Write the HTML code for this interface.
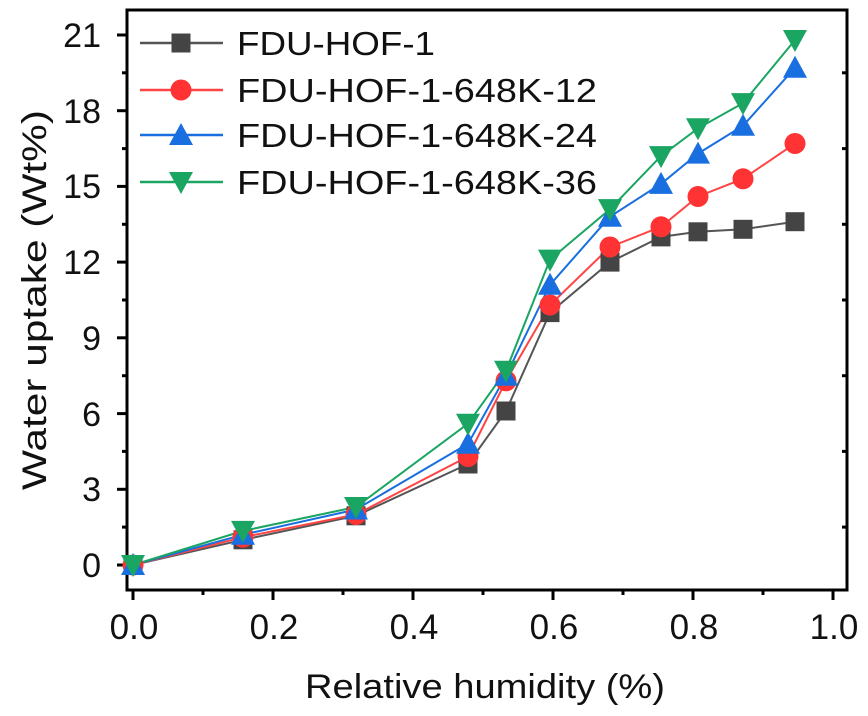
<!DOCTYPE html>
<html><head><meta charset="utf-8"><style>
html,body{margin:0;padding:0;background:#fff;}
svg{display:block;font-family:"Liberation Sans",Arial,sans-serif;}
</style></head><body>
<svg width="868" height="716" viewBox="0 0 868 716" xmlns="http://www.w3.org/2000/svg">
<defs>
<rect id="sq" x="-9.5" y="-9.5" width="19" height="19" fill="#444"/>
<circle id="ci" r="10.5" fill="#f33"/>
<polygon id="tu" points="0,-12 12,10 -12,10" fill="#1a6fe0"/>
<polygon id="td" points="0,12 12,-10 -12,-10" fill="#1aa562"/>
</defs>
<rect x="127" y="10" width="720" height="580" fill="none" stroke="#000" stroke-width="3"/>
<g stroke="#000" stroke-width="3">
<line x1="117" y1="565" x2="127" y2="565"/><line x1="117" y1="489.3" x2="127" y2="489.3"/><line x1="117" y1="413.6" x2="127" y2="413.6"/><line x1="117" y1="337.8" x2="127" y2="337.8"/><line x1="117" y1="262.1" x2="127" y2="262.1"/><line x1="117" y1="186.4" x2="127" y2="186.4"/><line x1="117" y1="110.7" x2="127" y2="110.7"/><line x1="117" y1="35" x2="127" y2="35"/>
<line x1="122" y1="527.1" x2="127" y2="527.1"/><line x1="122" y1="451.4" x2="127" y2="451.4"/><line x1="122" y1="375.7" x2="127" y2="375.7"/><line x1="122" y1="300" x2="127" y2="300"/><line x1="122" y1="224.3" x2="127" y2="224.3"/><line x1="122" y1="148.6" x2="127" y2="148.6"/><line x1="122" y1="72.8" x2="127" y2="72.8"/>
<line x1="847" y1="527.1" x2="842" y2="527.1"/><line x1="847" y1="451.4" x2="842" y2="451.4"/><line x1="847" y1="375.7" x2="842" y2="375.7"/><line x1="847" y1="300" x2="842" y2="300"/><line x1="847" y1="224.3" x2="842" y2="224.3"/><line x1="847" y1="148.6" x2="842" y2="148.6"/><line x1="847" y1="72.8" x2="842" y2="72.8"/>
<line x1="133" y1="590" x2="133" y2="600"/><line x1="273" y1="590" x2="273" y2="600"/><line x1="413" y1="590" x2="413" y2="600"/><line x1="553" y1="590" x2="553" y2="600"/><line x1="693" y1="590" x2="693" y2="600"/><line x1="833" y1="590" x2="833" y2="600"/>
<line x1="203" y1="590" x2="203" y2="595"/><line x1="343" y1="590" x2="343" y2="595"/><line x1="483" y1="590" x2="483" y2="595"/><line x1="623" y1="590" x2="623" y2="595"/><line x1="763" y1="590" x2="763" y2="595"/>
</g>
<g font-size="34" fill="#111" text-anchor="end">
<text x="101" y="577">0</text><text x="101" y="501">3</text><text x="101" y="426">6</text><text x="101" y="350">9</text><text x="101" y="274">12</text><text x="101" y="198">15</text><text x="101" y="123">18</text><text x="101" y="47">21</text>
</g>
<g font-size="35" fill="#111" text-anchor="middle">
<text x="134" y="639">0.0</text><text x="274" y="639">0.2</text><text x="414" y="639">0.4</text><text x="554" y="639">0.6</text><text x="694" y="639">0.8</text><text x="834" y="639">1.0</text>
</g>
<text x="305" y="698" font-size="34" fill="#111" textLength="360" lengthAdjust="spacingAndGlyphs">Relative humidity (%)</text>
<text transform="translate(46,490) rotate(-90)" font-size="34" fill="#111" textLength="380" lengthAdjust="spacingAndGlyphs">Water uptake (Wt%)</text>
<g fill="none" stroke-width="2">
<polyline stroke="#555" points="133,565 243,539.8 356,515.8 468,464 506,411 550,312.6 610,262.1 661,236.9 698,231.8 743,229.3 795,221.7"/>
<polyline stroke="#f44" points="133,565 243,537.2 356,514.5 468,456.5 506,380.8 550,305 610,247 661,226.8 698,196.5 743,178.8 795,143.5"/>
<polyline stroke="#1a6fe0" points="133,565 243,534.7 356,509.5 468,443.8 506,375.7 550,284.8 610,216.7 661,183.9 698,153.6 743,125.8 795,67.8"/>
<polyline stroke="#1aa562" points="133,565 243,530.9 356,507 468,423.7 506,370.7 550,259.6 610,209.1 661,156.1 698,128.3 743,103.1 795,40"/>
</g>
<g>
<use href="#sq" x="133" y="565"/><use href="#sq" x="243" y="539.8"/><use href="#sq" x="356" y="515.8"/><use href="#sq" x="468" y="464"/><use href="#sq" x="506" y="411"/><use href="#sq" x="550" y="312.6"/><use href="#sq" x="610" y="262.1"/><use href="#sq" x="661" y="236.9"/><use href="#sq" x="698" y="231.8"/><use href="#sq" x="743" y="229.3"/><use href="#sq" x="795" y="221.7"/>
<use href="#ci" x="133" y="565"/><use href="#ci" x="243" y="537.2"/><use href="#ci" x="356" y="514.5"/><use href="#ci" x="468" y="456.5"/><use href="#ci" x="506" y="380.8"/><use href="#ci" x="550" y="305"/><use href="#ci" x="610" y="247"/><use href="#ci" x="661" y="226.8"/><use href="#ci" x="698" y="196.5"/><use href="#ci" x="743" y="178.8"/><use href="#ci" x="795" y="143.5"/>
<use href="#tu" x="133" y="565"/><use href="#tu" x="243" y="534.7"/><use href="#tu" x="356" y="509.5"/><use href="#tu" x="468" y="443.8"/><use href="#tu" x="506" y="375.7"/><use href="#tu" x="550" y="284.8"/><use href="#tu" x="610" y="216.7"/><use href="#tu" x="661" y="183.9"/><use href="#tu" x="698" y="153.6"/><use href="#tu" x="743" y="125.8"/><use href="#tu" x="795" y="67.8"/>
<use href="#td" x="133" y="565"/><use href="#td" x="243" y="530.9"/><use href="#td" x="356" y="507"/><use href="#td" x="468" y="423.7"/><use href="#td" x="506" y="370.7"/><use href="#td" x="550" y="259.6"/><use href="#td" x="610" y="209.1"/><use href="#td" x="661" y="156.1"/><use href="#td" x="698" y="128.3"/><use href="#td" x="743" y="103.1"/><use href="#td" x="795" y="40"/>
</g>
<g stroke-width="2.5">
<line x1="140" y1="43" x2="223" y2="43" stroke="#555"/>
<line x1="140" y1="90" x2="223" y2="90" stroke="#f44"/>
<line x1="140" y1="135" x2="223" y2="135" stroke="#1a6fe0"/>
<line x1="140" y1="182" x2="223" y2="182" stroke="#1aa562"/>
</g>
<use href="#sq" x="181" y="43"/><use href="#ci" x="181" y="90"/><use href="#tu" x="181" y="135"/><use href="#td" x="181" y="182"/>
<g font-size="33" fill="#111">
<text x="237" y="55" textLength="198" lengthAdjust="spacingAndGlyphs">FDU-HOF-1</text>
<text x="237" y="102" textLength="360" lengthAdjust="spacingAndGlyphs">FDU-HOF-1-648K-12</text>
<text x="237" y="147" textLength="360" lengthAdjust="spacingAndGlyphs">FDU-HOF-1-648K-24</text>
<text x="237" y="194" textLength="360" lengthAdjust="spacingAndGlyphs">FDU-HOF-1-648K-36</text>
</g>
</svg>
</body></html>
